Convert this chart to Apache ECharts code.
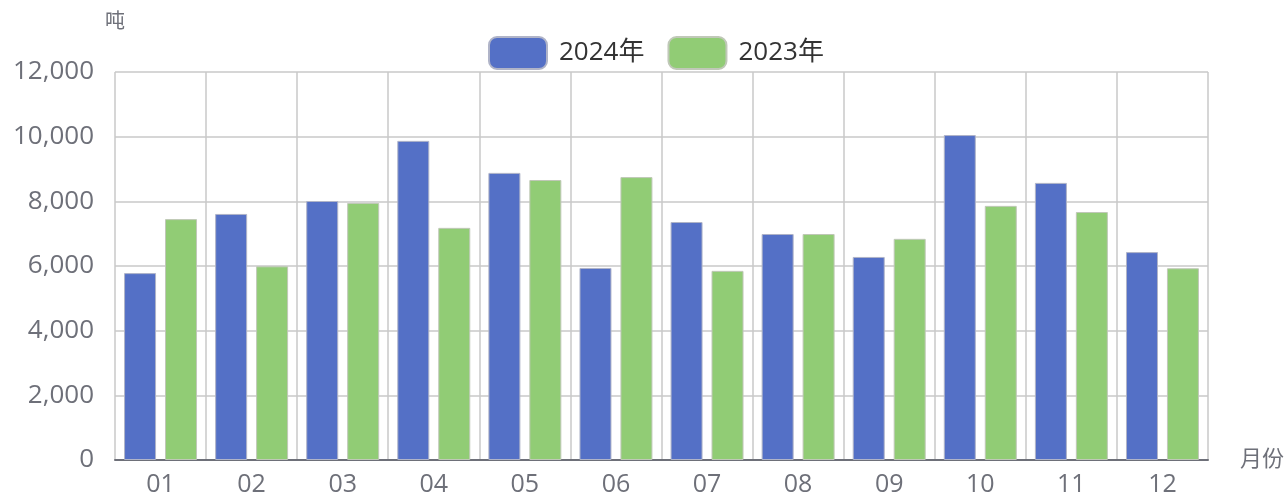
<!DOCTYPE html>
<html>
<head>
<meta charset="utf-8">
<script src="https://cdn.jsdelivr.net/npm/echarts@6/dist/echarts.min.js"></script>
<style>html,body{margin:0;padding:0;background:#fff;}#c{width:1287px;height:499px;}</style>
</head>
<body>
<div id="c"></div>
<script>
const months = ['01','02','03','04','05','06','07','08','09','10','11','12'];
const series2024 = [5780, 7610, 8010, 9870, 8880, 5940, 7360, 6990, 6280, 10050, 8570, 6430];
const series2023 = [7450, 5990, 7950, 7180, 8660, 8750, 5850, 6990, 6840, 7860, 7670, 5930];
const yTicks = { min: 0, max: 12000, interval: 2000 };

const font = '"Open Sans", "Noto Sans CJK SC", sans-serif';
const chart = echarts.init(document.getElementById('c'));
chart.setOption({
  animation: false,
  textStyle: { fontFamily: font },
  legend: {
    top: 31,
    left: 483,
    itemWidth: 58,
    itemHeight: 32,
    itemGap: 23,
    textStyle: { fontSize: 26, color: '#333', fontFamily: font, padding: [0, 0, 0, 7] },
    data: ['2024年', '2023年']
  },
  grid: { left: 115, right: 79, top: 72, bottom: 39 },
  xAxis: {
    type: 'category',
    data: months,
    name: '月份',
    nameGap: 32,
    nameTextStyle: { fontSize: 22, color: '#6e7079', verticalAlign: 'middle', fontFamily: font },
    axisLine: { lineStyle: { color: '#6e7079', width: 2 } },
    axisTick: { length: 8, lineStyle: { width: 2 } },
    axisLabel: { fontSize: 25, color: '#6e7079', margin: 12, fontFamily: font },
    splitLine: { show: true, lineStyle: { color: '#c8c8c8', width: 1.5 } }
  },
  yAxis: {
    type: 'value',
    min: yTicks.min,
    max: yTicks.max,
    interval: yTicks.interval,
    name: '吨',
    nameGap: 40,
    nameTextStyle: { fontSize: 20, color: '#6e7079', align: 'center', fontFamily: font },
    axisLine: { show: false },
    axisTick: { show: false },
    axisLabel: { fontSize: 26, color: '#6e7079', margin: 21, fontFamily: font },
    splitLine: { show: true, lineStyle: { color: '#c8c8c8', width: 1.5 } }
  },
  series: [
    { name: '2024年', type: 'bar', data: series2024, barWidth: 32, barGap: '28%',
      itemStyle: { color: '#5470c6', borderColor: '#b0b4c8', borderWidth: 1 } },
    { name: '2023年', type: 'bar', data: series2023, barWidth: 32, barGap: '28%',
      itemStyle: { color: '#91cc75', borderColor: '#c0c8b8', borderWidth: 1 } }
  ]
});
</script>
</body>
</html>
